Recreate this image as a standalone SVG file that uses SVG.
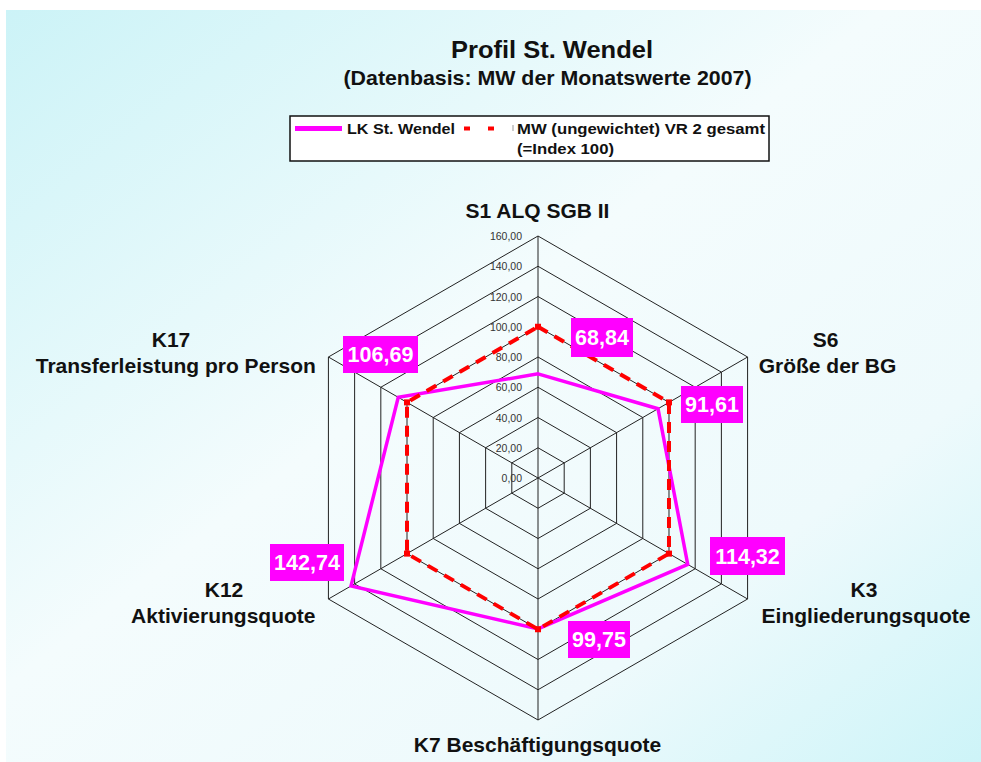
<svg xmlns="http://www.w3.org/2000/svg" width="981" height="762" viewBox="0 0 981 762">
  <defs>
    <linearGradient id="bg" x1="0" y1="0" x2="1" y2="1">
      <stop offset="0" stop-color="#ccf3f7"/>
      <stop offset="0.45" stop-color="#f4fcfd"/>
      <stop offset="0.75" stop-color="#eefafc"/>
      <stop offset="1" stop-color="#cdf4f8"/>
    </linearGradient>
    <style>
      .t { font-family: "Liberation Sans", Arial, sans-serif; font-weight: bold; fill: #111; }
      .ax { font-size: 21px; text-anchor: middle; }
      .sc { font-family: "Liberation Sans", Arial, sans-serif; font-size: 10.5px; fill: #333; text-anchor: end; }
      .grid { fill: none; stroke: #222; stroke-width: 1; }
      .vbox { fill: #ff00ff; }
      .vtxt { font-family: "Liberation Sans", Arial, sans-serif; font-weight: bold; font-size: 21.5px; fill: #fff; text-anchor: middle; }
      .lk { fill: none; stroke: #ff00ff; stroke-width: 3.5; stroke-linejoin: miter; }
      .mw { fill: none; stroke: #ff0000; stroke-width: 4; stroke-dasharray: 11 8; }
      .mk { fill: #ff0000; }
    </style>
  </defs>

  <rect width="981" height="762" fill="#ffffff"/>
  <rect x="6" y="10" width="975" height="752" fill="url(#bg)"/>

  <g id="title">
    <text class="t" x="552" y="58" font-size="24" text-anchor="middle" textLength="202" lengthAdjust="spacingAndGlyphs">Profil St. Wendel</text>
    <text class="t" x="547.5" y="85" font-size="21" text-anchor="middle" textLength="408" lengthAdjust="spacingAndGlyphs">(Datenbasis: MW der Monatswerte 2007)</text>
  </g>

  <g id="legend">
    <rect x="290" y="116" width="479" height="45" fill="#ffffff" stroke="#111" stroke-width="1.5"/>
    <line x1="295" y1="128.5" x2="342" y2="128.5" stroke="#ff00ff" stroke-width="5"/>
    <text class="t" x="347" y="134" font-size="15" textLength="108" lengthAdjust="spacingAndGlyphs">LK St. Wendel</text>
    <line x1="464" y1="128.5" x2="470" y2="128.5" stroke="#ff0000" stroke-width="4"/>
    <line x1="488" y1="128.5" x2="494" y2="128.5" stroke="#ff0000" stroke-width="4"/>
    <line x1="513" y1="125" x2="513" y2="131" stroke="#999" stroke-width="1"/>
    <text class="t" x="517" y="134" font-size="15" textLength="248" lengthAdjust="spacingAndGlyphs">MW (ungewichtet) VR 2 gesamt</text>
    <text class="t" x="517" y="154" font-size="15" textLength="97" lengthAdjust="spacingAndGlyphs">(=Index 100)</text>
  </g>

  <g id="connectors" transform="translate(538,478)">
    <polygon class="grid" points="0,-30.25 26.2,-15.125 26.2,15.125 0,30.25 -26.2,15.125 -26.2,-15.125"/>
    <polygon class="grid" points="0,-60.5 52.39,-30.25 52.39,30.25 0,60.5 -52.39,30.25 -52.39,-30.25"/>
    <polygon class="grid" points="0,-90.75 78.59,-45.375 78.59,45.375 0,90.75 -78.59,45.375 -78.59,-45.375"/>
    <polygon class="grid" points="0,-121 104.79,-60.5 104.79,60.5 0,121 -104.79,60.5 -104.79,-60.5"/>
    <polygon class="grid" points="0,-151.25 130.99,-75.625 130.99,75.625 0,151.25 -130.99,75.625 -130.99,-75.625"/>
    <polygon class="grid" points="0,-181.5 157.18,-90.75 157.18,90.75 0,181.5 -157.18,90.75 -157.18,-90.75"/>
    <polygon class="grid" points="0,-211.75 183.38,-105.875 183.38,105.875 0,211.75 -183.38,105.875 -183.38,-105.875"/>
    <polygon class="grid" points="0,-242 209.58,-121 209.58,121 0,242 -209.58,121 -209.58,-121"/>
    <path class="grid" d="M0,0 L0,-242 M0,0 L209.58,-121 M0,0 L209.58,121 M0,0 L0,242 M0,0 L-209.58,121 M0,0 L-209.58,-121"/>
    <polygon class="lk" points="0,-104.12 120,-69.28 149.74,86.46 0,150.87 -186.97,107.95 -139.75,-80.69"/>
    <polygon class="mw" points="0,-151.25 130.99,-75.625 130.99,75.625 0,151.25 -130.99,75.625 -130.99,-75.625"/>
    <rect class="mk" x="-3" y="-154.25" width="6" height="6"/>
    <rect class="mk" x="127.99" y="-78.625" width="6" height="6"/>
    <rect class="mk" x="127.99" y="72.625" width="6" height="6"/>
    <rect class="mk" x="-3" y="148.25" width="6" height="6"/>
    <rect class="mk" x="-133.99" y="72.625" width="6" height="6"/>
    <rect class="mk" x="-133.99" y="-78.625" width="6" height="6"/>
  </g>

  <g id="scale">
    <text class="sc" x="522" y="482">0,00</text>
    <text class="sc" x="522" y="451.75">20,00</text>
    <text class="sc" x="522" y="421.5">40,00</text>
    <text class="sc" x="522" y="391.25">60,00</text>
    <text class="sc" x="522" y="361">80,00</text>
    <text class="sc" x="522" y="330.75">100,00</text>
    <text class="sc" x="522" y="300.5">120,00</text>
    <text class="sc" x="522" y="270.25">140,00</text>
    <text class="sc" x="522" y="240">160,00</text>
  </g>

  <g id="axis-S1"><text class="t ax" x="537.5" y="218">S1 ALQ SGB II</text></g>
  <g id="axis-S6">
    <text class="t ax" x="825.5" y="347">S6</text>
    <text class="t ax" x="827.5" y="373">Größe der BG</text>
  </g>
  <g id="axis-K3">
    <text class="t ax" x="864" y="597">K3</text>
    <text class="t ax" x="866" y="623">Eingliederungsquote</text>
  </g>
  <g id="axis-K7"><text class="t ax" x="537.5" y="752">K7 Beschäftigungsquote</text></g>
  <g id="axis-K12">
    <text class="t ax" x="224" y="597">K12</text>
    <text class="t ax" x="223.3" y="623">Aktivierungsquote</text>
  </g>
  <g id="axis-K17">
    <text class="t ax" x="171" y="347">K17</text>
    <text class="t ax" x="175.8" y="373">Transferleistung pro Person</text>
  </g>

  <g id="val-S1"><rect class="vbox" x="571" y="318" width="62" height="39"/><text class="vtxt" x="602" y="345">68,84</text></g>
  <g id="val-S6"><rect class="vbox" x="681" y="386" width="62" height="37"/><text class="vtxt" x="712" y="412">91,61</text></g>
  <g id="val-K3"><rect class="vbox" x="710" y="537" width="75" height="38"/><text class="vtxt" x="747.5" y="564">114,32</text></g>
  <g id="val-K7"><rect class="vbox" x="568" y="621" width="62" height="37"/><text class="vtxt" x="599" y="647">99,75</text></g>
  <g id="val-K12"><rect class="vbox" x="270" y="544" width="74" height="37"/><text class="vtxt" x="307" y="570">142,74</text></g>
  <g id="val-K17"><rect class="vbox" x="343" y="336" width="75" height="37"/><text class="vtxt" x="380.5" y="362">106,69</text></g>
</svg>
